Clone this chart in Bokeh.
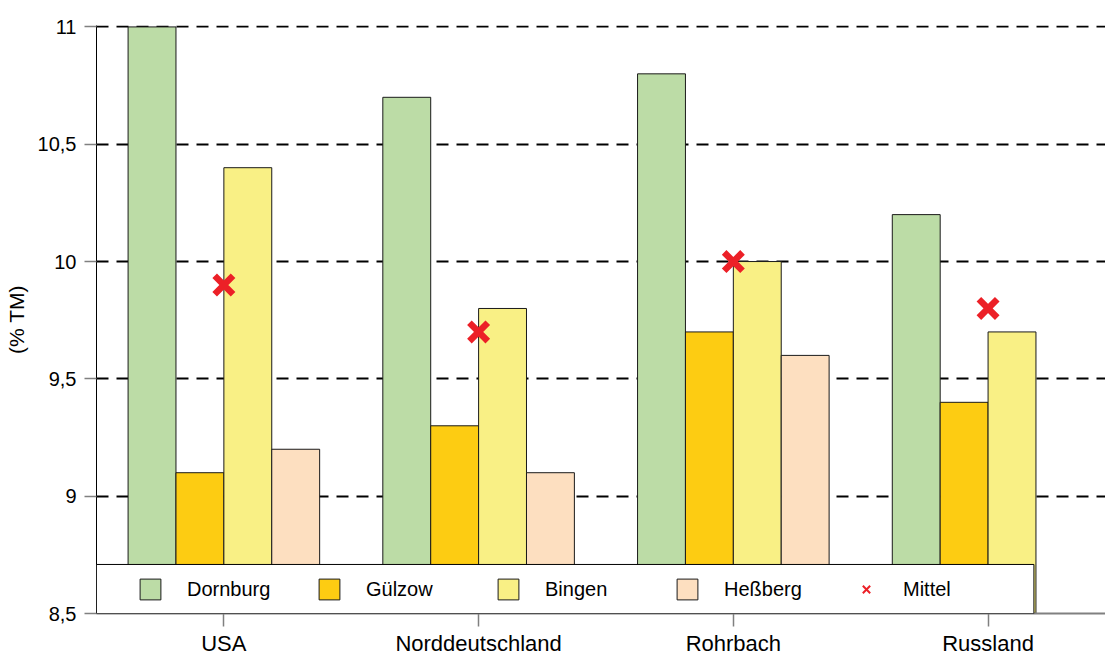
import numpy as np
from bokeh.plotting import figure
from bokeh.models import (ColumnDataSource, FixedTicker, Legend, LegendItem,
                          BoxAnnotation, Range1d)
from bokeh.transform import dodge
from bokeh.embed import file_html
from bokeh.resources import INLINE

# ---- data ----
countries = ["USA", "Norddeutschland", "Rohrbach", "Russland"]
series = ["Dornburg", "Gülzow", "Bingen", "Heßberg"]
dornburg = [11.0, 10.7, 10.8, 10.2]
guelzow = [9.1, 9.3, 9.7, 9.4]
bingen = [10.4, 9.8, 10.0, 9.7]
hessberg = [9.2, 9.1, 9.6, float("nan")]
mittel = [9.9, 9.7, 10.0, 9.8]
y_ticks = [8.5, 9, 9.5, 10, 10.5, 11]
y_tick_labels = ["8,5", "9", "9,5", "10", "10,5", "11"]
grid_ticks = [9, 9.5, 10, 10.5, 11]

colors = ["#BCDCA6", "#FDCC12", "#F9F085", "#FDDFC0"]
FONT = "Liberation Sans"

idx = list(range(len(countries)))
src = ColumnDataSource(data=dict(x=idx, Dornburg=dornburg, Gülzow=guelzow,
                                 Bingen=bingen, Heßberg=hessberg, mittel=mittel))

p = figure(width=1105, height=659, output_backend="svg", toolbar_location=None,
           x_range=Range1d(-0.5, 3.461), y_range=Range1d(8.5, 11.006),
           min_border_left=96, min_border_right=0, min_border_top=25,
           min_border_bottom=46)
p.outline_line_color = None
p.background_fill_color = "white"
p.border_fill_color = "white"

w = 0.188
offsets = [-1.5 * w, -0.5 * w, 0.5 * w, 1.5 * w]
bar_renderers = []
for s, c, off in zip(series, colors, offsets):
    r = p.vbar(x=dodge("x", off, range=p.x_range), top=s, bottom=8.5, width=w,
               source=src, fill_color=c, line_color="#1a1a1a", line_width=1)
    bar_renderers.append(r)

# small marker (used for the legend swatch; hidden under the big marker)
leg_x = p.scatter(x="x", y="mittel", source=src, marker="x", size=9,
                  line_color="#EC2027", line_width=2)
p.scatter(x="x", y="mittel", source=src, marker="x", size=26,
          line_color="#EC2027", line_width=6.5)

# axes
p.xaxis.ticker = FixedTicker(ticks=idx)
p.xaxis.major_label_overrides = {i: c for i, c in zip(idx, countries)}
p.xaxis.major_label_text_font = FONT
p.xaxis.major_label_text_font_size = "22px"
p.xaxis.major_label_text_color = "black"
p.xaxis.axis_line_color = "#808080"
p.xaxis.axis_line_width = 2
p.xaxis.major_tick_line_color = "#808080"
p.xaxis.major_tick_line_width = 1.5
p.xaxis.major_tick_out = 13
p.xaxis.major_tick_in = 0
p.xaxis.minor_tick_line_color = None
p.xaxis.major_label_standoff = 4

p.yaxis.ticker = FixedTicker(ticks=y_ticks)
p.yaxis.major_label_overrides = {t: l for t, l in zip(y_ticks, y_tick_labels)}
p.yaxis.major_label_text_font = FONT
p.yaxis.major_label_text_font_size = "20px"
p.yaxis.major_label_text_color = "black"
p.yaxis.axis_line_color = "black"
p.yaxis.axis_line_width = 1
p.yaxis.major_tick_line_color = "#808080"
p.yaxis.major_tick_line_width = 1.5
p.yaxis.major_tick_out = 12
p.yaxis.major_tick_in = 0
p.yaxis.minor_tick_line_color = None
p.yaxis.major_label_standoff = 8
p.yaxis.axis_label = "(% TM)"
p.yaxis.axis_label_text_font = FONT
p.yaxis.axis_label_text_font_size = "21px"
p.yaxis.axis_label_text_font_style = "normal"
p.yaxis.axis_label_text_color = "black"
p.yaxis.axis_label_standoff = 7

p.xgrid.grid_line_color = None
p.ygrid.ticker = FixedTicker(ticks=grid_ticks)
p.ygrid.grid_line_color = "black"
p.ygrid.grid_line_width = 2
p.ygrid.grid_line_dash = "12 8"

# legend box
box = BoxAnnotation(left=-0.5, right=3.18, bottom=8.5, top=8.709,
                    fill_color="white", fill_alpha=1.0,
                    line_color="black", line_width=1, line_alpha=1.0)
p.add_layout(box)

items = [LegendItem(label=s, renderers=[r]) for s, r in zip(series, bar_renderers)]
items.append(LegendItem(label="Mittel", renderers=[leg_x]))
legend = Legend(items=items, orientation="horizontal", location=(41, 11),
                glyph_width=26, glyph_height=26, label_width=109,
                label_standoff=24, spacing=20, padding=0, margin=0,
                border_line_color=None, background_fill_alpha=0,
                label_text_font=FONT, label_text_font_size="20px",
                label_text_color="black")
p.add_layout(legend, "center")

open("out.html", "w").write(file_html(p, INLINE))
